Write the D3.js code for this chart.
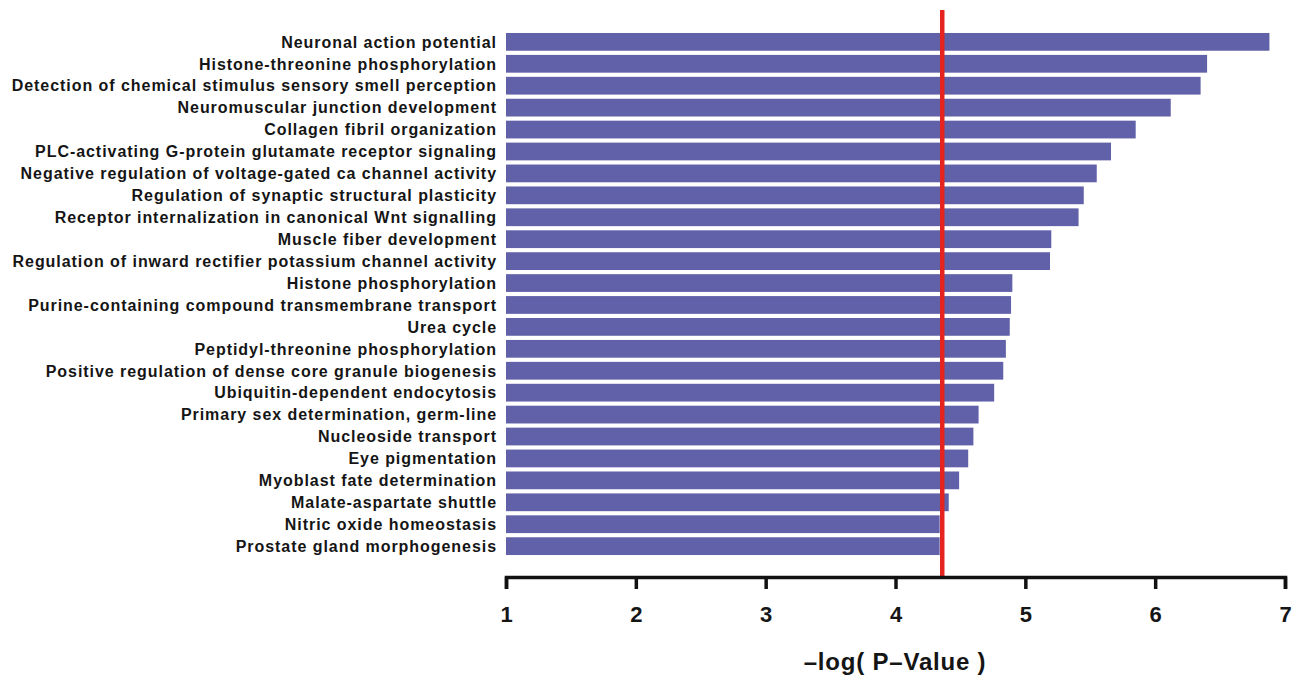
<!DOCTYPE html>
<html>
<head>
<meta charset="utf-8">
<script src="https://cdn.jsdelivr.net/npm/d3@7"></script>
<style>
  body { margin: 0; background: #fff; }
  svg { display: block; }
  text { font-family: "Liberation Sans", Arial, sans-serif; font-weight: bold; }
</style>
</head>
<body>
<svg id="chart"></svg>
<script>
let terms = [
  "Neuronal action potential",
  "Histone-threonine phosphorylation",
  "Detection of chemical stimulus sensory smell perception",
  "Neuromuscular junction development",
  "Collagen fibril organization",
  "PLC-activating G-protein glutamate receptor signaling",
  "Negative regulation of voltage-gated ca channel activity",
  "Regulation of synaptic structural plasticity",
  "Receptor internalization in canonical Wnt signalling",
  "Muscle fiber development",
  "Regulation of inward rectifier potassium channel activity",
  "Histone phosphorylation",
  "Purine-containing compound transmembrane transport",
  "Urea cycle",
  "Peptidyl-threonine phosphorylation",
  "Positive regulation of dense core granule biogenesis",
  "Ubiquitin-dependent endocytosis",
  "Primary sex determination, germ-line",
  "Nucleoside transport",
  "Eye pigmentation",
  "Myoblast fate determination",
  "Malate-aspartate shuttle",
  "Nitric oxide homeostasis",
  "Prostate gland morphogenesis"
];

let logP = [6.88, 6.40, 6.35, 6.12, 5.85, 5.66, 5.55, 5.45, 5.41, 5.20, 5.19,
            4.90, 4.89, 4.88, 4.85, 4.83, 4.76, 4.64, 4.60, 4.56, 4.49, 4.41, 4.34, 4.34];

let xTicks = [1, 2, 3, 4, 5, 6, 7];
let threshold = 4.36;

function getConfig() {
  let width = 1302;
  let height = 676;
  let margin = { top: 31, bottom: 99, left: 506, right: 17 };
  let container = d3.select("#chart")
    .attr("width", width)
    .attr("height", height);
  return { width, height, margin, container };
}

function getScales(config) {
  let { margin, width } = config;
  let x = d3.scaleLinear()
    .domain([1, 7])
    .range([margin.left, width - margin.right]);
  let y = d3.scaleBand()
    .domain(terms)
    .range([margin.top, 557])
    .paddingInner(0.19)
    .paddingOuter(0.09);
  return { x, y };
}

function drawChart(config, scales) {
  let { container } = config;
  let { x, y } = scales;
  let data = terms.map((t, i) => ({ term: t, value: logP[i] }));

  // bars
  container.append("g")
    .selectAll("rect")
    .data(data)
    .enter()
    .append("rect")
    .attr("x", x(1))
    .attr("y", d => y(d.term))
    .attr("width", d => x(d.value) - x(1))
    .attr("height", y.bandwidth())
    .attr("fill", "#6161a9");

  // category labels
  container.append("g")
    .selectAll("text")
    .data(data)
    .enter()
    .append("text")
    .attr("x", x(1) - 9)
    .attr("y", d => y(d.term) + y.bandwidth() / 2)
    .attr("dy", "0.36em")
    .attr("text-anchor", "end")
    .attr("font-size", 16)
    .attr("letter-spacing", 0.95)
    .attr("fill", "#151515")
    .text(d => d.term);

  // threshold line
  let axisY = 577;
  container.append("line")
    .attr("x1", x(threshold))
    .attr("x2", x(threshold))
    .attr("y1", 10)
    .attr("y2", axisY)
    .attr("stroke", "#e5231f")
    .attr("stroke-width", 4.5);

  // x axis
  let axis = d3.axisBottom(x)
    .tickValues(xTicks)
    .tickFormat(d3.format("d"))
    .tickSize(12)
    .tickPadding(17);

  let g = container.append("g")
    .attr("transform", `translate(0,${axisY})`)
    .call(axis);
  g.select(".domain")
    .attr("stroke", "#111")
    .attr("stroke-width", 3.5);
  g.selectAll(".tick line")
    .attr("stroke", "#111")
    .attr("stroke-width", 3.5);
  g.selectAll(".tick text")
    .attr("font-size", 22)
    .attr("font-family", "'Liberation Sans', Arial, sans-serif")
    .attr("font-weight", "bold")
    .attr("fill", "#151515");

  container.append("text")
    .attr("x", 895)
    .attr("y", 670)
    .attr("text-anchor", "middle")
    .attr("font-size", 24)
    .attr("letter-spacing", 0.8)
    .attr("fill", "#151515")
    .text("\u2013log( P\u2013Value )");
}

let config = getConfig();
let scales = getScales(config);
drawChart(config, scales);
</script>
</body>
</html>
